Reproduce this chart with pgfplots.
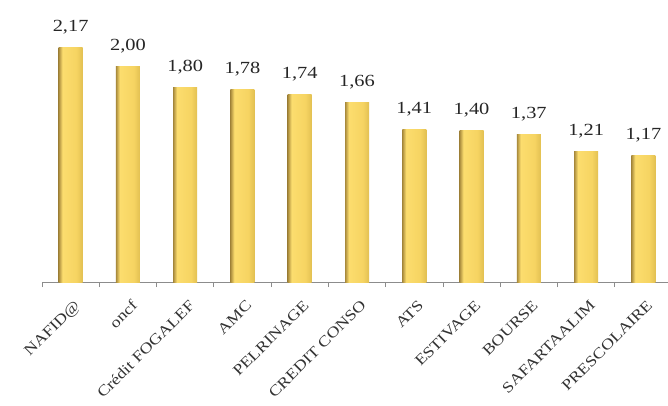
\documentclass[border=0pt]{standalone}
\usepackage{fontspec}
\setmainfont{Liberation Serif}[FakeStretch=1.2]
\usepackage{pgfplots}
\pgfplotsset{compat=1.18}
\definecolor{barleft}{HTML}{A88A3C}
\definecolor{barmid}{HTML}{FCDD6E}
\definecolor{barmid2}{HTML}{F6D462}
\definecolor{barright}{HTML}{E2C052}
\definecolor{axisgray}{HTML}{8C8C8C}
% horizontal gold shading, the path covers 25bp..75bp
\pgfdeclarehorizontalshading{goldshade}{100bp}{color(0bp)=(barleft); color(25bp)=(barleft); color(33bp)=(barmid); color(62bp)=(barmid2); color(75bp)=(barright); color(100bp)=(barright)}
\pgfplotsset{goldbar/.style={draw=none, bar shift=0pt, shading=goldshade}}
\begin{document}
\begin{tikzpicture}
\path[use as bounding box] (-42pt,-123pt) rectangle (626pt,282pt);
\begin{axis}[
    at={(0,0)}, anchor=south west,
    scale only axis,
    width=626pt, height=270pt,
    xmin=-0.5, xmax=10.43,
    ymin=0, ymax=2.5,
    ybar, bar width=24pt,
    axis y line=none,
    axis x line=bottom,
    x axis line style={-, axisgray, line width=0.8pt},
    xtick={0,1,2,3,4,5,6,7,8,9,10},
    xticklabels={NAFID@, oncf, Crédit FOGALEF, AMC, PELRINAGE, CREDIT CONSO, ATS, ESTIVAGE, BOURSE, SAFARTAALIM, PRESCOLAIRE},
    major tick length=0pt,
    minor xtick={-0.5,0.5,...,10.5},
    minor tick length=5pt,
    tick align=outside,
    minor x tick style={axisgray, line width=0.8pt},
    x tick label style={rotate=45, anchor=north east, inner sep=1pt,
        font=\fontsize{15}{15}\selectfont, text=black!80, yshift=-13pt, xshift=-9pt},
    nodes near coords={\pgfmathprintnumber[assume math mode=true, use comma, fixed, fixed zerofill, precision=2]{\pgfplotspointmeta}},
    nodes near coords style={anchor=base, yshift=16pt, font=\fontsize{17}{17}\selectfont, text=black!85},
    clip=false,
]
\addplot[goldbar] coordinates {(0,2.17)};
\addplot[goldbar] coordinates {(1,2.00)};
\addplot[goldbar] coordinates {(2,1.80)};
\addplot[goldbar] coordinates {(3,1.78)};
\addplot[goldbar] coordinates {(4,1.74)};
\addplot[goldbar] coordinates {(5,1.66)};
\addplot[goldbar] coordinates {(6,1.41)};
\addplot[goldbar] coordinates {(7,1.40)};
\addplot[goldbar] coordinates {(8,1.37)};
\addplot[goldbar] coordinates {(9,1.21)};
\addplot[goldbar] coordinates {(10,1.17)};
\end{axis}
\end{tikzpicture}
\end{document}
